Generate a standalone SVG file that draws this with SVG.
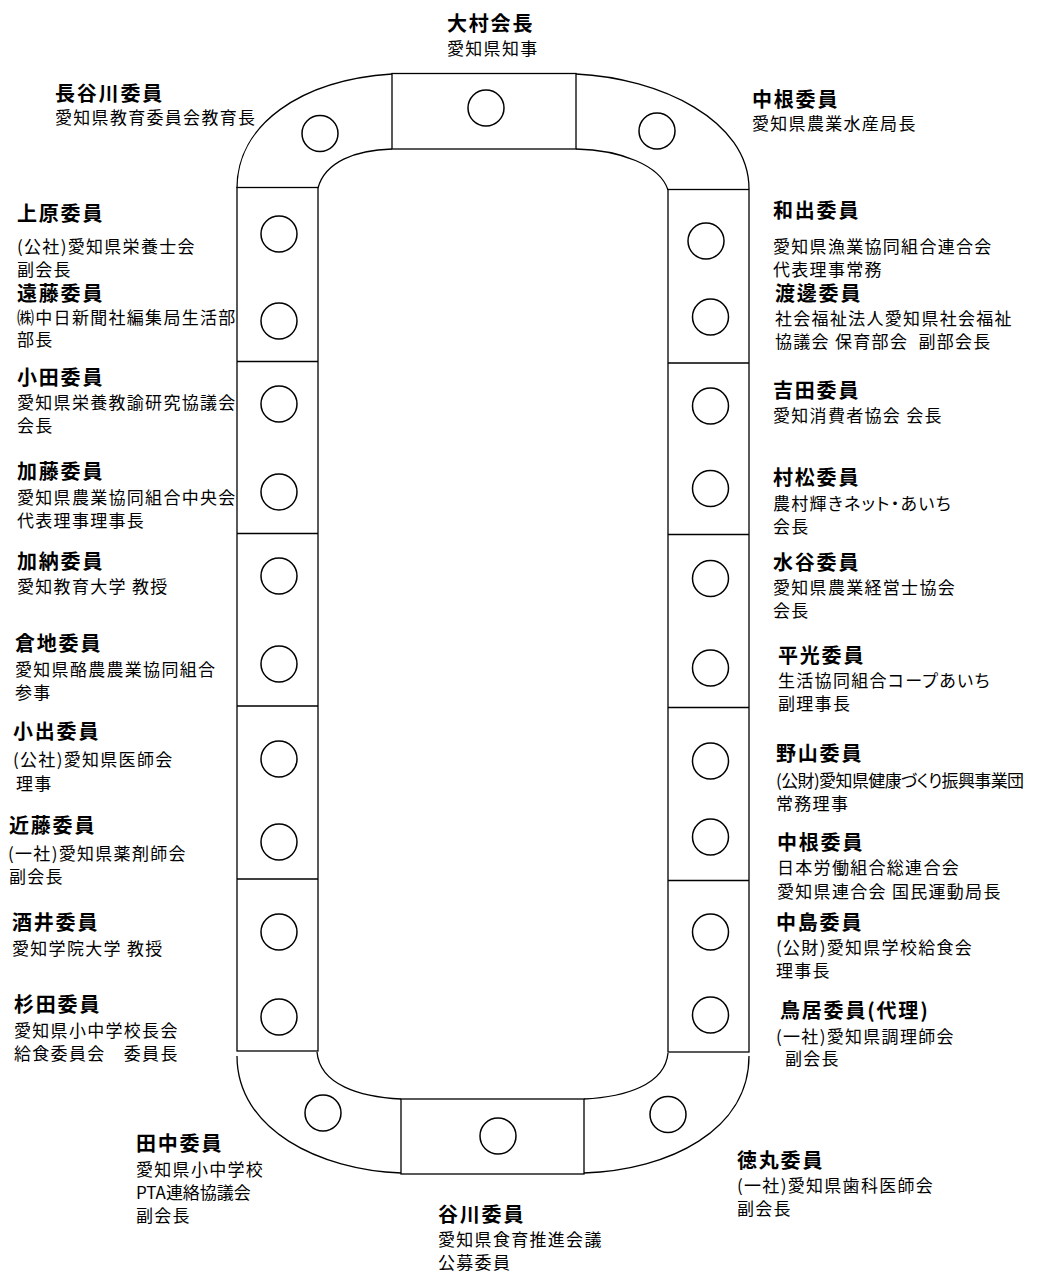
<svg xmlns="http://www.w3.org/2000/svg" width="1051" height="1272" viewBox="0 0 1051 1272">
<style>
.ln{fill:none;stroke:#000;stroke-width:1.3}
.bx{fill:#fff;stroke:#000;stroke-width:1.3}
.st{fill:#fff;stroke:#000;stroke-width:1.5}
text{font-family:"Noto Sans CJK JP","Noto Sans",sans-serif;fill:#000;font-feature-settings:"palt"}
.n{font-size:20px;font-weight:bold;letter-spacing:1.8px}
.d{font-size:17px;letter-spacing:1.3px}
.tight{letter-spacing:-0.6px}
</style>
<rect width="1051" height="1272" fill="#fff"/>
<g id="table">
<path class="ln" d="M237,188 C237,125 300,80 392,74"/>
<path class="ln" d="M318,188 C325,162 355,150 392,149"/>
<path class="ln" d="M576,74 C660,78 749,120 749,189"/>
<path class="ln" d="M576,149 C620,150 660,165 668,190"/>
<path class="ln" d="M237,1056 C237,1130 320,1170 401,1173"/>
<path class="ln" d="M317,1052 C320,1085 360,1097 401,1099"/>
<path class="ln" d="M584,1099 C625,1097 665,1085 668,1053"/>
<path class="ln" d="M584,1173 C670,1170 749,1130 749,1056"/>
<rect class="bx" x="392" y="73.5" width="184" height="75.5"/>
<rect class="bx" x="401" y="1099" width="183" height="75"/>
<rect class="bx" x="237" y="187.5" width="81" height="863.5"/>
<path class="ln" d="M237,361.5H318M237,533.5H318M237,706H318M237,879H318"/>
<rect class="bx" x="668" y="189.5" width="81" height="862.5"/>
<path class="ln" d="M668,363H749M668,534.5H749M668,707.5H749M668,880.5H749"/>
</g>
<g id="seats">
<circle class="st" cx="486" cy="108" r="18"/>
<circle class="st" cx="320" cy="133.5" r="18"/>
<circle class="st" cx="657" cy="131" r="18"/>
<circle class="st" cx="279" cy="234" r="18"/>
<circle class="st" cx="279" cy="321" r="18"/>
<circle class="st" cx="279" cy="404" r="18"/>
<circle class="st" cx="279" cy="492" r="18"/>
<circle class="st" cx="279" cy="576" r="18"/>
<circle class="st" cx="279" cy="664" r="18"/>
<circle class="st" cx="279" cy="759" r="18"/>
<circle class="st" cx="279" cy="842" r="18"/>
<circle class="st" cx="279" cy="932" r="18"/>
<circle class="st" cx="279" cy="1017" r="18"/>
<circle class="st" cx="706" cy="241" r="18"/>
<circle class="st" cx="710.5" cy="317" r="18"/>
<circle class="st" cx="710.5" cy="406" r="18"/>
<circle class="st" cx="710.5" cy="488.5" r="18"/>
<circle class="st" cx="710.5" cy="578.5" r="18"/>
<circle class="st" cx="710.5" cy="668" r="18"/>
<circle class="st" cx="710.5" cy="761" r="18"/>
<circle class="st" cx="710.5" cy="837" r="18"/>
<circle class="st" cx="710.5" cy="932" r="18"/>
<circle class="st" cx="710.5" cy="1015" r="18"/>
<circle class="st" cx="323" cy="1113" r="18"/>
<circle class="st" cx="498" cy="1136" r="18"/>
<circle class="st" cx="668" cy="1114.5" r="18"/>
</g>
<g id="omura"><text class="n" x="447" y="31">大村会長</text><text class="d" x="447" y="55">愛知県知事</text></g>
<g id="hasegawa"><text class="n" x="55" y="101">長谷川委員</text><text class="d" x="55" y="124">愛知県教育委員会教育長</text></g>
<g id="nakane1"><text class="n" x="752" y="107">中根委員</text><text class="d" x="752" y="130">愛知県農業水産局長</text></g>
<g id="uehara"><text class="n" x="17" y="221">上原委員</text><text class="d" x="17" y="253">(公社)愛知県栄養士会</text><text class="d" x="17" y="276">副会長</text></g>
<g id="endo"><text class="n" x="17" y="301">遠藤委員</text><text class="d" x="17" y="324">㈱中日新聞社編集局生活部</text><text class="d" x="17" y="346">部長</text></g>
<g id="oda"><text class="n" x="17" y="385">小田委員</text><text class="d" x="17" y="409">愛知県栄養教諭研究協議会</text><text class="d" x="17" y="432">会長</text></g>
<g id="kato"><text class="n" x="17" y="479">加藤委員</text><text class="d" x="17" y="504">愛知県農業協同組合中央会</text><text class="d" x="17" y="527">代表理事理事長</text></g>
<g id="kano"><text class="n" x="17" y="569">加納委員</text><text class="d" x="17" y="593">愛知教育大学 教授</text></g>
<g id="kurachi"><text class="n" x="15" y="651">倉地委員</text><text class="d" x="15" y="676">愛知県酪農農業協同組合</text><text class="d" x="15" y="699">参事</text></g>
<g id="koide"><text class="n" x="13" y="739">小出委員</text><text class="d" x="13" y="766">(公社)愛知県医師会</text><text class="d" x="16" y="790">理事</text></g>
<g id="kondo"><text class="n" x="9" y="833">近藤委員</text><text class="d" x="8" y="860">(一社)愛知県薬剤師会</text><text class="d" x="9" y="883">副会長</text></g>
<g id="sakai"><text class="n" x="12" y="930">酒井委員</text><text class="d" x="12" y="955">愛知学院大学 教授</text></g>
<g id="sugita"><text class="n" x="14" y="1012">杉田委員</text><text class="d" x="14" y="1037">愛知県小中学校長会</text><text class="d" x="14" y="1060">給食委員会　委員長</text></g>
<g id="tanaka"><text class="n" x="136" y="1151">田中委員</text><text class="d" x="136" y="1176">愛知県小中学校</text><text class="d" x="136" y="1199" textLength="116" lengthAdjust="spacing">PTA連絡協議会</text><text class="d" x="136" y="1222">副会長</text></g>
<g id="tanigawa"><text class="n" x="438" y="1222">谷川委員</text><text class="d" x="438" y="1246">愛知県食育推進会議</text><text class="d" x="438" y="1269">公募委員</text></g>
<g id="tokumaru"><text class="n" x="737" y="1168">徳丸委員</text><text class="d" x="737" y="1192">(一社)愛知県歯科医師会</text><text class="d" x="737" y="1215">副会長</text></g>
<g id="wade"><text class="n" x="773" y="218">和出委員</text><text class="d" x="773" y="253">愛知県漁業協同組合連合会</text><text class="d" x="773" y="276">代表理事常務</text></g>
<g id="watanabe"><text class="n" x="775" y="301">渡邊委員</text><text class="d" x="775" y="325">社会福祉法人愛知県社会福祉</text><text class="d" x="775" y="348">協議会 保育部会 &#160;副部会長</text></g>
<g id="yoshida"><text class="n" x="773" y="398">吉田委員</text><text class="d" x="773" y="422">愛知消費者協会 会長</text></g>
<g id="muramatsu"><text class="n" x="773" y="485">村松委員</text><text class="d" x="773" y="510">農村輝きネット・あいち</text><text class="d" x="773" y="533">会長</text></g>
<g id="mizutani"><text class="n" x="773" y="570">水谷委員</text><text class="d" x="773" y="594">愛知県農業経営士協会</text><text class="d" x="773" y="617">会長</text></g>
<g id="hiramitsu"><text class="n" x="778" y="663">平光委員</text><text class="d" x="778" y="687">生活協同組合コープあいち</text><text class="d" x="778" y="710">副理事長</text></g>
<g id="noyama"><text class="n" x="776" y="761">野山委員</text><text class="d tight" x="776" y="787">(公財)愛知県健康づくり振興事業団</text><text class="d" x="776" y="810">常務理事</text></g>
<g id="nakane2"><text class="n" x="777" y="850">中根委員</text><text class="d" x="777" y="874">日本労働組合総連合会</text><text class="d" x="777" y="898">愛知県連合会 国民運動局長</text></g>
<g id="nakajima"><text class="n" x="776" y="930">中島委員</text><text class="d" x="776" y="954">(公財)愛知県学校給食会</text><text class="d" x="776" y="977">理事長</text></g>
<g id="torii"><text class="n" x="780" y="1018">鳥居委員(代理)</text><text class="d" x="776" y="1043">(一社)愛知県調理師会</text><text class="d" x="785" y="1065">副会長</text></g>
</svg>
